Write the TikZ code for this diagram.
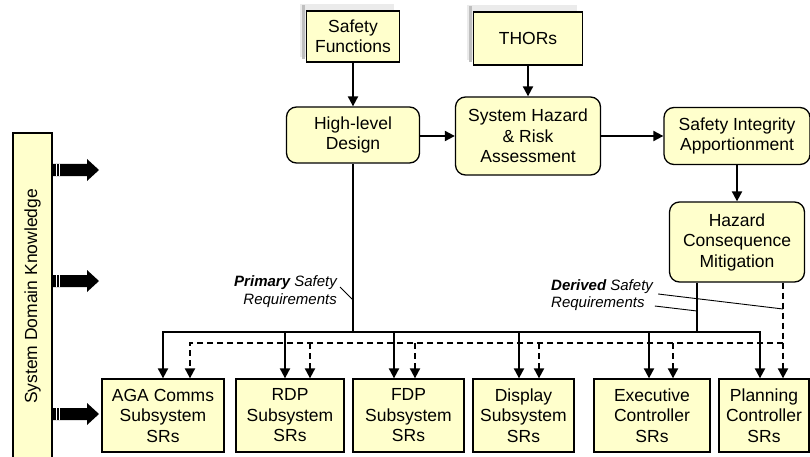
\documentclass[tikz,border=0pt]{standalone}
\usepackage{fontspec}
\setmainfont{Liberation Sans}
\usetikzlibrary{arrows.meta,backgrounds}
\definecolor{boxfill}{RGB}{255,255,204}
\begin{document}
\begin{tikzpicture}[x=1pt,y=-1pt,
  base/.style={draw=black, line width=1.3pt, fill=boxfill, align=center, inner sep=0pt,
               font=\fontsize{17.5}{20.5}\selectfont},
  sqbox/.style={base},
  rndbox/.style={base, rounded corners=10pt},
  wire/.style={line width=2pt},
  flow/.style={wire, -{Triangle[length=10pt,width=10pt]}},
  dwire/.style={wire, dash pattern=on 6pt off 4pt},
  dflow/.style={flow, dash pattern=on 6pt off 4pt},
  leader/.style={line width=0.9pt},
  lbl/.style={font=\fontsize{15}{17}\selectfont\itshape, inner sep=0pt},
  bigarrow/.style={fill=black},
]
\useasboundingbox (0,0) rectangle (810,457);

% upper chain
\node[sqbox, minimum width=93pt, minimum height=51pt] (sf) at (353,36.5) {Safety\\Functions};
\node[sqbox, minimum width=109pt, minimum height=53pt] (thor) at (528,38.5) {THORs};
\node[rndbox, minimum width=133pt, minimum height=56pt] (hld) at (353,135) {High-level\\Design};
\node[rndbox, minimum width=145pt, minimum height=78pt] (shra) at (528,136) {System Hazard\\\& Risk\\Assessment};
\node[rndbox, minimum width=146pt, minimum height=57pt] (sia) at (737,136) {Safety Integrity\\Apportionment};
\node[rndbox, minimum width=135pt, minimum height=80pt] (hcm) at (737,242) {Hazard\\Consequence\\Mitigation};

% subsystem safety requirements
\node[sqbox, minimum width=122pt, minimum height=73pt] (aga)  at (163,415.5)   {AGA Comms\\Subsystem\\SRs};
\node[sqbox, minimum width=108pt, minimum height=73pt] (rdp)  at (290,415.5)   {RDP\\Subsystem\\SRs};
\node[sqbox, minimum width=111pt, minimum height=73pt] (fdp)  at (408.5,415.5) {FDP\\Subsystem\\SRs};
\node[sqbox, minimum width=101pt, minimum height=73pt] (disp) at (523.5,415.5) {Display\\Subsystem\\SRs};
\node[sqbox, minimum width=116pt, minimum height=73pt] (exe)  at (652,415.5)   {Executive\\Controller\\SRs};
\node[sqbox, minimum width=90pt,  minimum height=73pt] (plan) at (764,415.5)   {Planning\\Controller\\SRs};

% domain knowledge bar
\node[sqbox, rotate=90, minimum width=327pt, minimum height=39pt] (sdk) at (32.5,296.5) {System Domain Knowledge};

% shadows behind the input boxes
\begin{scope}[on background layer]
  \foreach \n in {sf,thor} {
    \fill[gray!16] ([shift={(-6,-6)}]\n.south west) rectangle ([shift={(-6,-6)}]\n.north east);
    \draw[gray!50, line width=3pt] ([shift={(-2.5,-4)}]\n.south west) -- ([shift={(-2.5,-4)}]\n.north west) -- ([shift={(-1,-4)}]\n.north west);
  }
\end{scope}

% block arrows out of the knowledge bar
\foreach \yy in {170,281,414} {
  \fill[bigarrow] (52,\yy-6) -- (87,\yy-6) -- (87,\yy-11) -- (99,\yy) -- (87,\yy+11) -- (87,\yy+6) -- (52,\yy+6) -- cycle;
  \draw[white, line width=0.9pt] (56,\yy-6) -- (56,\yy+6);
  \draw[white, line width=0.9pt] (59.5,\yy-6) -- (59.5,\yy+6);
}

% top-level flow
\draw[flow] (sf.south) -- (sf.south |- hld.north);
\draw[flow] (thor.south) -- (thor.south |- shra.north);
\draw[flow] (shra.west -| hld.east) -- (shra.west);
\draw[flow] (shra.east) -- (shra.east -| sia.west);
\draw[flow] (sia.south) -- (sia.south |- hcm.north);

% primary safety requirements bus
\coordinate (pbus) at (353,332);
\draw[wire] (hld.south) -- (pbus);
\draw[wire] (hcm.south -| 697,0) -- (697,332);
\draw[flow] (pbus) -| (aga.north);
\draw[flow] (pbus) -| (760,0 |- plan.north);
\foreach \x/\n in {285/rdp,394/fdp,519/disp,649/exe}
  \draw[flow] (\x,332) -- (\x,0 |- \n.north);

% derived safety requirements bus
\coordinate (dbus) at (783,343);
\draw[dflow] (hcm.south -| 783,0) -- (783,0 |- plan.north);
\draw[dflow] (dbus) -| (190,0 |- aga.north);
\foreach \x/\n in {310/rdp,415/fdp,539/disp,673/exe}
  \draw[dflow] (\x,343) -- (\x,0 |- \n.north);

% labels and leaders
\node[lbl, anchor=east] (prim1) at (337,283) {\textbf{Primary} Safety};
\node[lbl, anchor=east] (prim2) at (337,301) {Requirements};
\draw[leader] ([shift={(3,4)}]prim1.east) -- (hld.south |- 0,300);

\node[lbl, anchor=west] (der1) at (551,287) {\textbf{Derived} Safety};
\node[lbl, anchor=west] (der2) at (551,304) {Requirements};
\draw[leader] ([shift={(5,7)}]der1.east) -- (783,309);
\draw[leader] ([shift={(10,2)}]der2.east) -- (697,311);
\end{tikzpicture}
\end{document}
